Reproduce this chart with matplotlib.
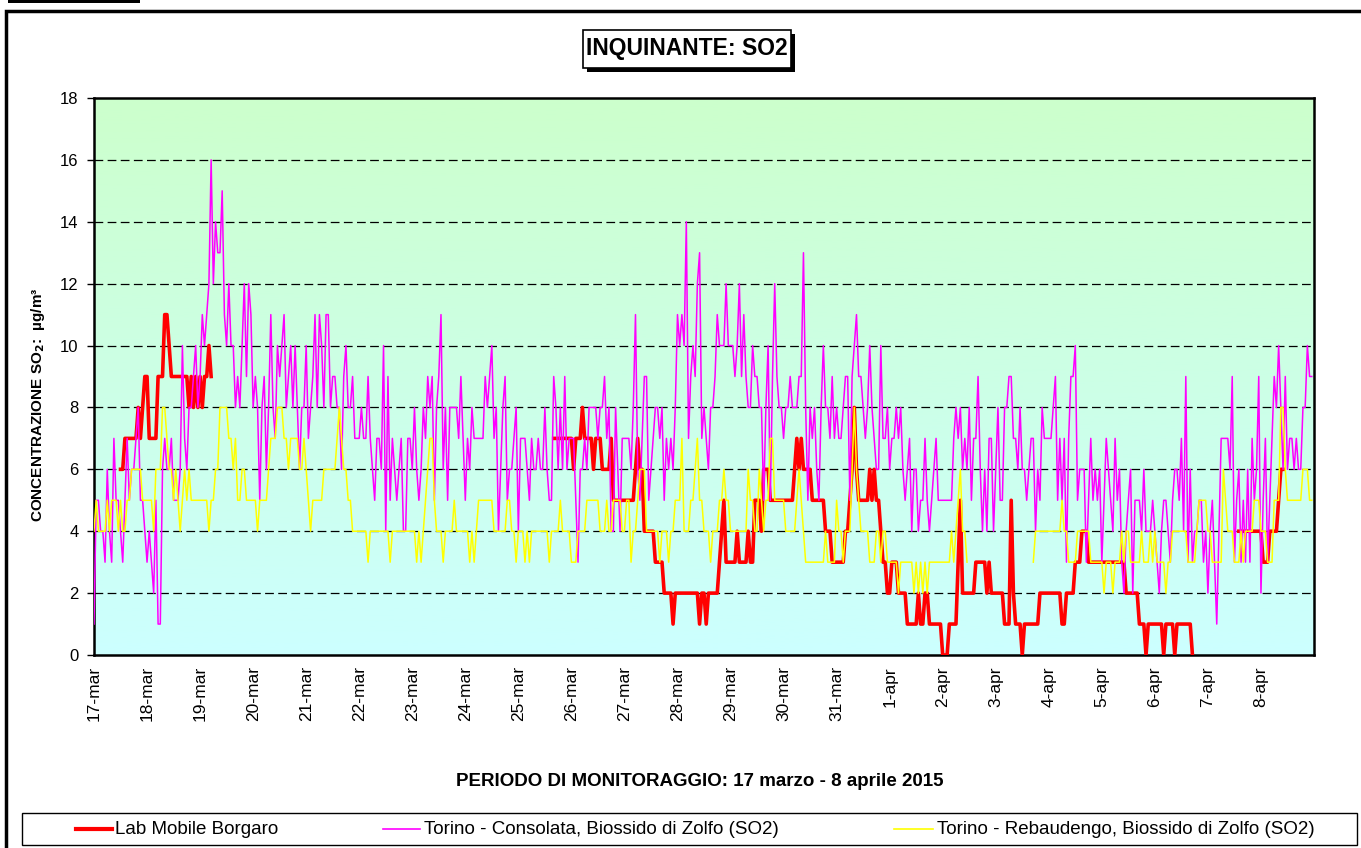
import numpy as np
import matplotlib
matplotlib.use("Agg")
import matplotlib.pyplot as plt
from matplotlib.lines import Line2D
from matplotlib.patches import Rectangle

plt.rcParams['font.family'] = ['Liberation Sans', 'DejaVu Sans']

N = None

# day labels (one tick every 24 hourly values)
days = ["17-mar", "18-mar", "19-mar", "20-mar", "21-mar", "22-mar", "23-mar",
        "24-mar", "25-mar", "26-mar", "27-mar", "28-mar", "29-mar", "30-mar",
        "31-mar", "1-apr", "2-apr", "3-apr", "4-apr", "5-apr", "6-apr",
        "7-apr", "8-apr"]

# hourly SO2 (ug/m3), one row per day
borgaro = [
    [N] * 12 + [6, 6, 7, 7, 7, 7, 7, 7, 8, 7, 8, 9],
    [9, 7, 7, 7, 7, 9, 9, 9, 11, 11, 10, 9, 9, 9, 9, 9, 9, 9, 9, 8, 9, 8, 9, 8],
    [9, 8, 9, 9, 10, 9] + [N] * 18,
    [N] * 24,
    [N] * 24,
    [N] * 24,
    [N] * 24,
    [N] * 24,
    [N] * 16 + [7, 7, 7, 7, 7, 7, 7, 7],
    [7, 6, 7, 7, 7, 8, 7, 7, 7, 7, 6, 7, 7, 7, 6, 6, 6, 6, 7, 5, 5, 5, 5, 5],
    [5, 5, 5, 5, 5, 6, 7, 6, 6, 4, 4, 4, 4, 4, 3, 3, 3, 3, 2, 2, 2, 2, 1, 2],
    [2, 2, 2, 2, 2, 2, 2, 2, 2, 2, 1, 2, 2, 1, 2, 2, 2, 2, 2, 3, 4, 5, 3, 3],
    [3, 3, 3, 4, 3, 3, 3, 3, 4, 3, 3, 5, 5, 5, 4, 6, 6, 6, 5, 5, 5, 5, 5, 5],
    [5, 5, 5, 5, 5, 6, 7, 6, 7, 6, 6, 6, 6, 5, 5, 5, 5, 5, 5, 4, 4, 4, 3, 3],
    [3, 3, 3, 3, 4, 4, 5, 6, 8, 6, 5, 5, 5, 5, 5, 6, 5, 6, 5, 5, 4, 3, 3, 2],
    [2, 3, 3, 3, 2, 2, 2, 2, 1, 1, 1, 1, 1, 2, 1, 1, 2, 2, 1, 1, 1, 1, 1, 1],
    [0, 0, 0, 1, 1, 1, 1, 3, 5, 2, 2, 2, 2, 2, 2, 3, 3, 3, 3, 3, 2, 3, 2, 2],
    [2, 2, 2, 2, 1, 1, 1, 5, 2, 1, 1, 1, 0, 1, 1, 1, 1, 1, 1, 1, 2, 2, 2, 2],
    [2, 2, 2, 2, 2, 2, 1, 1, 2, 2, 2, 2, 3, 3, 3, 4, 4, 4, 3, 3, 3, 3, 3, 3],
    [3, 3, 3, 3, 3, 3, 3, 3, 3, 3, 3, 2, 2, 2, 2, 2, 2, 1, 1, 1, 0, 1, 1, 1],
    [1, 1, 1, 1, 0, 1, 1, 1, 1, 0, 1, 1, 1, 1, 1, 1, 1, 0] + [N] * 6,
    [N] * 14 + [4, 4, 4, 4, 4, 4, 4, 4, 4, 4],
    [4, 3, 3, 3, 4, 4, 4, 4, 5, 6, 6] + [N] * 13,
]

consolata = [
    [1, 5, 5, 4, 4, 3, 6, 4, 3, 7, 5, 5, 4, 3, 5, 7, 5, 6, 6, 7, 8, 5, 5, 4],
    [3, 4, 3, 2, 5, 1, 1, 6, 7, 6, 6, 7, 5, 5, 5, 6, 10, 7, 6, 8, 8, 9, 10, 8],
    [9, 11, 10, 11, 12, 16, 12, 14, 13, 13, 15, 11, 10, 12, 10, 10, 8, 9, 8, 10, 12, 9, 12, 11],
    [8, 9, 8, 5, 8, 9, 6, 8, 11, 8, 7, 10, 9, 10, 11, 8, 9, 10, 8, 10, 8, 6, 8, 8],
    [10, 7, 8, 9, 11, 8, 11, 10, 8, 11, 11, 8, 9, 9, 8, 8, 6, 9, 10, 8, 8, 9, 7, 7],
    [7, 8, 7, 7, 9, 7, 6, 5, 7, 7, 6, 10, 4, 9, 5, 7, 6, 5, 6, 7, 4, 4, 7, 7],
    [6, 8, 6, 5, 6, 8, 7, 9, 8, 9, 5, 8, 9, 11, 6, 8, 5, 8, 8, 8, 8, 7, 9, 7],
    [5, 7, 6, 8, 7, 7, 7, 7, 7, 9, 8, 9, 10, 7, 8, 4, 6, 8, 9, 5, 6, 6, 7, 8],
    [4, 7, 7, 7, 6, 5, 7, 6, 6, 7, 6, 6, 8, 6, 5, 5, 9, 8, 6, 8, 6, 9, 6, 7],
    [7, 7, 5, 3, 6, 6, 7, 6, 8, 8, 8, 8, 7, 8, 8, 9, 7, 8, 4, 4, 8, 6, 4, 7],
    [7, 7, 7, 6, 8, 11, 6, 5, 7, 9, 9, 5, 6, 7, 8, 8, 7, 8, 5, 7, 6, 7, 6, 8],
    [11, 10, 11, 10, 14, 7, 9, 10, 9, 12, 13, 7, 8, 7, 6, 8, 8, 9, 11, 10, 10, 10, 12, 10],
    [10, 10, 9, 10, 12, 9, 11, 9, 8, 8, 10, 9, 9, 8, 8, 5, 8, 10, 5, 9, 12, 9, 8, 8],
    [7, 8, 8, 9, 8, 8, 8, 9, 9, 13, 8, 5, 8, 7, 8, 6, 5, 8, 10, 8, 8, 7, 9, 7],
    [8, 7, 7, 8, 9, 9, 5, 9, 10, 11, 9, 9, 8, 7, 8, 10, 8, 7, 6, 6, 10, 7, 7, 8],
    [6, 7, 7, 8, 7, 8, 6, 5, 6, 7, 4, 6, 6, 4, 5, 5, 7, 5, 4, 5, 6, 7, 5, 5],
    [5, 5, 5, 5, 5, 7, 8, 7, 8, 6, 7, 6, 8, 5, 7, 7, 9, 6, 4, 6, 4, 7, 7, 4],
    [6, 8, 5, 5, 8, 8, 9, 9, 7, 7, 6, 8, 6, 6, 5, 6, 7, 7, 4, 6, 5, 8, 7, 7],
    [7, 7, 8, 9, 5, 7, 5, 7, 3, 7, 9, 9, 10, 5, 6, 6, 6, 3, 5, 7, 5, 6, 5, 6],
    [3, 5, 7, 6, 5, 4, 7, 5, 6, 3, 2, 4, 5, 6, 2, 5, 5, 5, 4, 6, 4, 4, 4, 5],
    [4, 3, 2, 4, 5, 5, 4, 3, 5, 6, 6, 5, 7, 4, 9, 3, 6, 3, 4, 4, 5, 5, 3, 4],
    [2, 4, 5, 3, 1, 4, 7, 7, 7, 7, 6, 9, 3, 5, 6, 3, 5, 3, 6, 3, 7, 5, 6, 9],
    [2, 5, 7, 3, 5, 7, 9, 8, 10, 8, 6, 9, 6, 7, 7, 6, 7, 6, 6, 8, 8, 10, 9, 9],
]

rebaudengo = [
    [4, 5, 4, 4, 4, 4, 5, 4, 5, 5, 5, 4, 5, 4, 4, 5, 5, 6, 6, 6, 6, 6, 5, 5],
    [5, 5, 5, 4, 6, 6, 6, 8, 8, 7, 6, 6, 5, 6, 5, 4, 5, 6, 5, 6, 5, 5, 5, 5],
    [5, 5, 5, 5, 4, 5, 5, 6, 6, 8, 8, 8, 8, 7, 7, 6, 7, 5, 5, 6, 6, 5, 5, 5],
    [5, 5, 4, 5, 5, 5, 5, 6, 7, 7, 7, 8, 8, 8, 7, 7, 6, 7, 7, 7, 7, 6, 6, 7],
    [6, 5, 4, 5, 5, 5, 5, 5, 6, 6, 6, 6, 6, 6, 7, 8, 7, 6, 6, 5, 5, 4, 4, 4],
    [4, 4, 4, 4, 3, 4, 4, 4, 4, 4, 4, 4, 4, 4, 3, 4, 4, 4, 4, 4, 4, 4, 4, 4],
    [4, 4, 3, 4, 3, 4, 5, 6, 7, 7, 5, 4, 4, 4, 3, 4, 4, 4, 4, 5, 4, 4, 4, 4],
    [4, 4, 3, 4, 3, 4, 5, 5, 5, 5, 5, 5, 5, 4, 4, 4, 4, 4, 4, 5, 5, 4, 4, 3],
    [4, 4, 4, 3, 4, 3, 4, 4, 4, 4, 4, 4, 4, 4, 3, 4, 4, 4, 4, 5, 4, 4, 4, 4],
    [3, 3, 3, 4, 4, 4, 4, 5, 5, 5, 5, 5, 5, 4, 4, 4, 5, 4, 4, 5, 5, 5, 5, 4],
    [4, 5, 5, 3, 4, 4, 5, 6, 6, 6, 4, 4, 4, 4, 4, 4, 3, 4, 4, 4, 3, 4, 4, 5],
    [5, 5, 7, 4, 4, 4, 5, 5, 6, 7, 5, 5, 4, 4, 4, 3, 4, 4, 4, 5, 5, 6, 5, 5],
    [4, 4, 4, 4, 4, 4, 4, 4, 6, 5, 5, 4, 4, 6, 5, 4, 5, 5, 7, 7, 5, 5, 5, 5],
    [5, 4, 4, 4, 4, 4, 5, 6, 5, 4, 3, 3, 3, 3, 3, 3, 3, 3, 3, 4, 3, 3, 3, 3],
    [5, 4, 4, 3, 4, 4, 4, 6, 8, 6, 5, 4, 4, 4, 4, 3, 3, 3, 4, 4, 3, 4, 4, 3],
    [3, 3, 3, 3, 2, 3, 3, 3, 3, 3, 3, 2, 3, 2, 3, 2, 3, 2, 3, 3, 3, 3, 3, 3],
    [3, 3, 3, 3, 4, 3, 4, 5, 6, 4, 4, 3] + [N] * 12,
    [N] * 17 + [3, 4, 4, 4, 4, 4, 4],
    [4, 4, 4, 4, 4, 4, 5, 4, 4, 3, 3, 3, 3, 4, 4, 4, 4, 4, 4, 3, 3, 3, 3, 3],
    [3, 2, 3, 3, 3, 2, 3, 3, 3, 4, 3, 4, 4, 3, 3, 3, 3, 3, 4, 3, 3, 3, 4, 3],
    [4, 3, 3, 3, 3, 2, 3, 3, 4, 4, 4, 4, 4, 4, 4, 3, 3, 3, 3, 4, 5, 5, 5, 5],
    [4, 4, 3, 3, 3, 3, 3, 6, 5, 4, 4, 4, 3, 3, 3, 4, 3, 4, 4, 4, 4, 5, 5, 5],
    [4, 4, 4, 3, 3, 3, 5, 5, 5, 8, 8, 6, 5, 5, 5, 5, 5, 5, 5, 6, 6, 6, 5, 5],
]


def flat(rows):
    return np.array([np.nan if v is None else v for r in rows for v in r], dtype=float)


y_red = flat(borgaro)
y_mag = flat(consolata)
y_yel = flat(rebaudengo)
x = np.arange(len(y_red))

fig = plt.figure(figsize=(13.61, 8.48), dpi=100)
W, H = 1361, 848


def px(x0, y0):
    # pixel position (from top-left) -> figure fraction
    return x0 / W, 1 - y0 / H


# outer frame and the little bar on top
fig.add_artist(Rectangle((6 / W, -0.1), 1.2, (1 - 11 / H) + 0.1, transform=fig.transFigure,
                         fill=False, lw=2.5, ec="black"))
fig.add_artist(Rectangle((8 / W, 1 - 3 / H), 132 / W, 3 / H, transform=fig.transFigure,
                         color="black", lw=0))

ax = fig.add_axes([94 / W, 1 - 655 / H, (1314 - 94) / W, (655 - 98) / H])

# green -> cyan gradient background
grad = np.linspace(0, 1, 256).reshape(-1, 1)
top = np.array([204, 255, 204]) / 255
bot = np.array([204, 255, 255]) / 255
img = top + (bot - top) * grad[:, :, None]
ax.imshow(img, extent=[0, 1, 0, 1], transform=ax.transAxes, aspect="auto", zorder=0)

for g in range(2, 18, 2):
    ax.axhline(g, color="black", lw=0.9, dashes=(7, 3.5), zorder=1)

ax.plot(x, y_red, color="#FF0000", lw=2.6, zorder=3)
ax.plot(x, y_mag, color="#FF00FF", lw=1.1, zorder=4)
ax.plot(x, y_yel, color="#FFFF00", lw=1.1, zorder=5)

ax.set_xlim(0, len(x))
ax.set_ylim(0, 18)
ax.set_yticks(range(0, 19, 2))
ax.tick_params(axis="y", labelsize=12, length=5, width=1, direction="out", pad=6)
ax.set_xticks(np.arange(len(days)) * 24)
ax.set_xticklabels(days, rotation=90, fontsize=12.5)
ax.tick_params(axis="x", length=0, pad=8)
for s in ax.spines.values():
    s.set_linewidth(1.8)

fig.text(*px(38, 405), "CONCENTRAZIONE SO$_\\mathbf{2}$:  µg/m³", rotation=90,
         ha="center", va="center", fontsize=11, fontweight="bold")

fig.text(*px(700, 782), "PERIODO DI MONITORAGGIO: 17 marzo - 8 aprile 2015",
         ha="center", va="center", fontsize=13.5, fontweight="bold")

# title box with shadow
fig.add_artist(Rectangle(px(587, 72), 208 / W, 38 / H, transform=fig.transFigure,
                         color="black", lw=0, zorder=1))
fig.add_artist(Rectangle(px(583, 68), 208 / W, 38 / H, transform=fig.transFigure,
                         fc="white", ec="black", lw=1.2, zorder=2))
fig.text(*px(687, 49), "INQUINANTE: SO2", ha="center", va="center",
         fontsize=16.5, fontweight="bold", zorder=3)

# legend box
fig.add_artist(Rectangle(px(22, 845), (1357 - 22) / W, 32 / H,
                         transform=fig.transFigure, fill=False, ec="black", lw=1.0))
leg_items = [("Lab Mobile Borgaro", "#FF0000", 3.0, 76, 112, 115),
             ("Torino - Consolata, Biossido di Zolfo (SO2)", "#FF00FF", 1.2, 383, 420, 424),
             ("Torino - Rebaudengo, Biossido di Zolfo (SO2)", "#FFFF00", 1.2, 894, 933, 937)]
ly = 1 - 829 / H
for label, col, lw, x0, x1, xt in leg_items:
    fig.add_artist(Line2D([x0 / W, x1 / W], [ly, ly], transform=fig.transFigure,
                          color=col, lw=lw))
    fig.text(xt / W, ly, label, ha="left", va="center", fontsize=13.5)

fig.savefig("out.png", dpi=100)
